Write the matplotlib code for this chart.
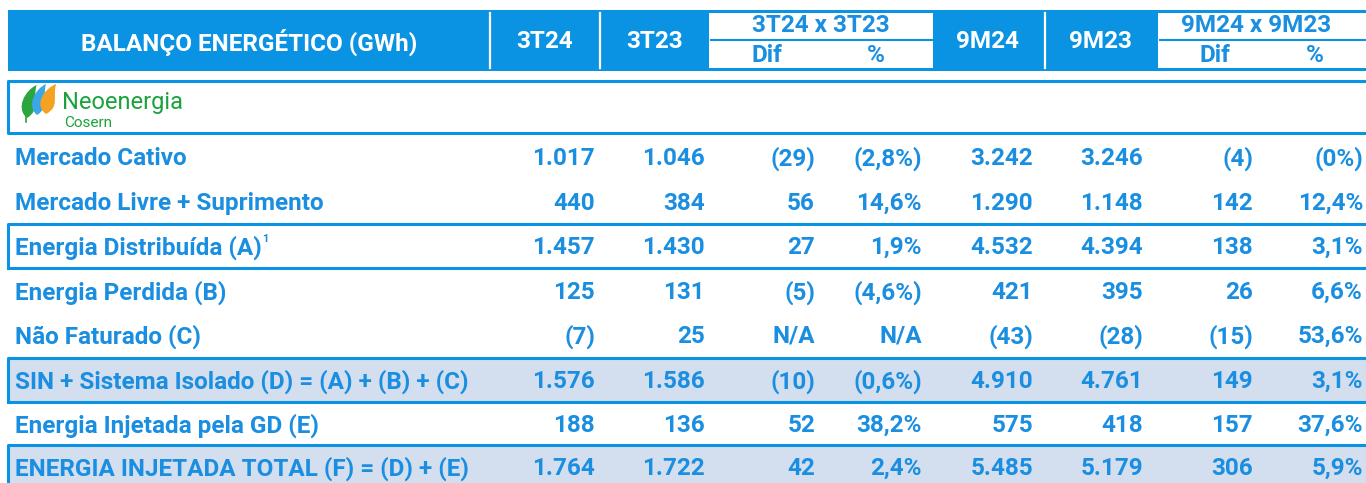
import matplotlib
matplotlib.use("Agg")
import matplotlib.pyplot as plt
from matplotlib.patches import Rectangle, PathPatch
from matplotlib.path import Path

# table content
row_labels = [
    "Mercado Cativo",
    "Mercado Livre + Suprimento",
    "Energia Distribuída (A)",
    "Energia Perdida (B)",
    "Não Faturado (C)",
    "SIN + Sistema Isolado (D) = (A) + (B) + (C)",
    "Energia Injetada pela GD (E)",
    "ENERGIA INJETADA TOTAL (F) = (D) + (E)",
]
q_3t24 = ["1.017", "440", "1.457", "125", "(7)", "1.576", "188", "1.764"]
q_3t23 = ["1.046", "384", "1.430", "131", "25", "1.586", "136", "1.722"]
q_dif = ["(29)", "56", "27", "(5)", "N/A", "(10)", "52", "42"]
q_pct = ["(2,8%)", "14,6%", "1,9%", "(4,6%)", "N/A", "(0,6%)", "38,2%", "2,4%"]
m_9m24 = ["3.242", "1.290", "4.532", "421", "(43)", "4.910", "575", "5.485"]
m_9m23 = ["3.246", "1.148", "4.394", "395", "(28)", "4.761", "418", "5.179"]
m_dif = ["(4)", "142", "138", "26", "(15)", "149", "157", "306"]
m_pct = ["(0%)", "12,4%", "3,1%", "6,6%", "53,6%", "3,1%", "37,6%", "5,9%"]
footnote_row = 2
boxed_rows = [2]
shaded_rows = [5, 7]

BLUE = "#0a93e3"
TXT = "#1a8ee0"
SHADE = "#d3deef"
GREEN = "#1ba23c"
FONT = "Roboto"
FS = 17.5

fig = plt.figure(figsize=(13.66, 4.83), dpi=100)
ax = fig.add_axes([0, 0, 1, 1])
ax.set_xlim(0, 1366)
ax.set_ylim(483, 0)
ax.axis("off")

# header band
ax.add_patch(Rectangle((8, 10), 1358, 61, color=BLUE, lw=0))
for x in (490, 600, 1045):
    ax.plot([x, x], [13, 68], color="white", lw=1.6)
for x0, x1 in ((709, 933), (1158, 1366)):
    ax.add_patch(Rectangle((x0, 13), x1 - x0, 55, color="white", lw=0))
    ax.plot([x0 + 2, x1], [40, 40], color=BLUE, lw=1.5)

hdr = dict(fontfamily=FONT, fontweight="bold", fontsize=FS, va="center", ha="center")
ax.text(249, 42, "BALANÇO ENERGÉTICO (GWh)", color="white", **hdr)
ax.text(545, 42, "3T24", color="white", **hdr)
ax.text(655, 42, "3T23", color="white", **hdr)
ax.text(987, 42, "9M24", color="white", **hdr)
ax.text(1100, 42, "9M23", color="white", **hdr)
ax.text(821, 26, "3T24 x 3T23", color=TXT, **hdr)
ax.text(767, 56, "Dif", color=TXT, **hdr)
ax.text(876, 56, "%", color=TXT, **hdr)
ax.text(1256, 26, "9M24 x 9M23", color=TXT, **hdr)
ax.text(1215, 56, "Dif", color=TXT, **hdr)
ax.text(1315, 56, "%", color=TXT, **hdr)

# logo row
ax.plot([1366, 8, 8, 1366], [81, 81, 133, 133], color=BLUE, lw=2.2)

def leaf(xb, ybot, w, h, color):
    # flame shaped leaf, base at (xb, ybot), tip up and to the right
    verts = [(xb, ybot),
             (xb - w * 0.75, ybot - h * 0.3), (xb - w * 0.1, ybot - h * 0.85), (xb + w * 0.6, ybot - h),
             (xb + w * 0.35, ybot - h * 0.6), (xb + w * 0.85, ybot - h * 0.25), (xb, ybot)]
    codes = [Path.MOVETO] + [Path.CURVE4] * 6
    ax.add_patch(PathPatch(Path(verts, codes), color=color, lw=0))

leaf(27, 118, 16, 33, "#2aa53f")
leaf(37, 115, 15, 31, "#3aa7e6")
leaf(46, 114, 17, 30, "#f5a122")
ax.plot([26, 26], [112, 122], color="#2aa53f", lw=1.2)
ax.text(62, 103, "Neoenergia", color=GREEN, fontfamily=FONT, fontsize=17, va="center", ha="left")
ax.text(64, 123, "Cosern", color=GREEN, fontfamily=FONT, fontsize=11, va="center", ha="left")

# body rows
row_y = [157, 202, 246, 291, 335, 380, 424, 467]
half_h = 22
col_right = [595, 705, 815, 922, 1033, 1143, 1253, 1363]
columns = [q_3t24, q_3t23, q_dif, q_pct, m_9m24, m_9m23, m_dif, m_pct]
body = dict(fontfamily=FONT, fontweight="bold", fontsize=FS, va="center", color=TXT)

for i, y in enumerate(row_y):
    top, bot = y - half_h, min(y + half_h, 483)
    if i in shaded_rows:
        ax.add_patch(Rectangle((8, top), 1358, bot - top, color=SHADE, lw=0))
    if i in boxed_rows or i in shaded_rows:
        ax.plot([1366, 8, 8], [top, top, bot], color=BLUE, lw=2.2)
        if bot < 483:
            ax.plot([8, 1366], [bot, bot], color=BLUE, lw=2.2)
    lab = ax.text(15, y + 1.5, row_labels[i], ha="left", **body)
    if i == footnote_row:
        ax.annotate("1", xy=(1, 1), xycoords=lab, xytext=(0.5, 1), textcoords="offset points",
                    ha="left", va="top", fontfamily=FONT, fontweight="bold", fontsize=8, color=TXT)
    for xr, col in zip(col_right, columns):
        ax.text(xr, y + 1.5, col[i], ha="right", **body)

fig.savefig("out.png", dpi=100)
